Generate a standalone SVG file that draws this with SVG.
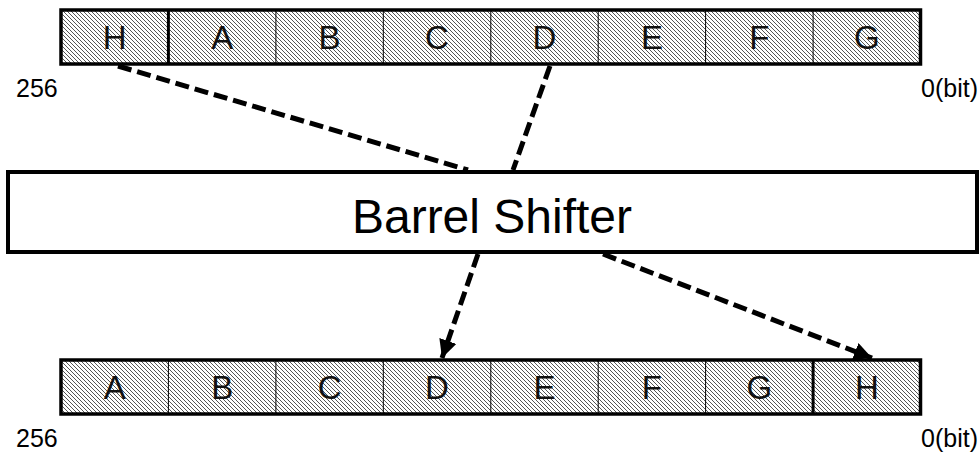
<svg xmlns="http://www.w3.org/2000/svg" width="979" height="453" viewBox="0 0 979 453">
  <defs>
    <pattern id="hatch" patternUnits="userSpaceOnUse" width="4" height="4">
      <rect width="4" height="4" fill="#ffffff"/>
      <path d="M-1,-1 L5,5 M-1,3 L1,5 M3,-1 L5,1" stroke="#555" stroke-width="1"/>
    </pattern>
    <marker id="head" markerUnits="userSpaceOnUse" markerWidth="20" markerHeight="18" refX="18" refY="9" orient="auto">
      <path d="M0,0 L18,9 L0,18 Z" fill="#000"/>
    </marker>
  </defs>
  <style>
    .bar { fill: url(#hatch); stroke: #000; stroke-width: 3.5; }
    .div { stroke: #000; stroke-width: 1; }
    .divk { stroke: #000; stroke-width: 3; }
    .cell { font-family: "Liberation Sans", Arial, sans-serif; font-size: 33px; fill: #111; text-anchor: middle; }
    .idx { font-family: "Liberation Sans", Arial, sans-serif; font-size: 25px; fill: #000; }
    .conn { fill: none; stroke: #000; stroke-width: 5; stroke-dasharray: 14 6; }
    .box { fill: #fff; stroke: #000; stroke-width: 4; }
    .title { font-family: "Liberation Sans", Arial, sans-serif; font-size: 48px; fill: #000; text-anchor: middle; }
  </style>

  <!-- input register -->
  <g id="input-register">
    <rect class="bar" x="61" y="10" width="859.5" height="54"/>
    <line class="divk" x1="168.4" y1="10" x2="168.4" y2="64"/>
    <line class="div" x1="275.9" y1="10" x2="275.9" y2="64"/>
    <line class="div" x1="383.3" y1="10" x2="383.3" y2="64"/>
    <line class="div" x1="490.8" y1="10" x2="490.8" y2="64"/>
    <line class="div" x1="598.2" y1="10" x2="598.2" y2="64"/>
    <line class="div" x1="705.6" y1="10" x2="705.6" y2="64"/>
    <line class="div" x1="813.1" y1="10" x2="813.1" y2="64"/>
    <text class="cell" x="114.7" y="49">H</text>
    <text class="cell" x="222.2" y="49">A</text>
    <text class="cell" x="329.6" y="49">B</text>
    <text class="cell" x="437.0" y="49">C</text>
    <text class="cell" x="544.5" y="49">D</text>
    <text class="cell" x="651.9" y="49">E</text>
    <text class="cell" x="759.3" y="49">F</text>
    <text class="cell" x="866.8" y="49">G</text>
    <text class="idx" x="16" y="97">256</text>
    <text class="idx" x="978" y="97" text-anchor="end">0(bit)</text>
  </g>

  <!-- output register -->
  <g id="output-register">
    <rect class="bar" x="61" y="360" width="859.5" height="54"/>
    <line class="div" x1="168.4" y1="360" x2="168.4" y2="414"/>
    <line class="div" x1="275.9" y1="360" x2="275.9" y2="414"/>
    <line class="div" x1="383.3" y1="360" x2="383.3" y2="414"/>
    <line class="div" x1="490.8" y1="360" x2="490.8" y2="414"/>
    <line class="div" x1="598.2" y1="360" x2="598.2" y2="414"/>
    <line class="div" x1="705.6" y1="360" x2="705.6" y2="414"/>
    <line class="divk" x1="813.1" y1="360" x2="813.1" y2="414"/>
    <text class="cell" x="114.7" y="399">A</text>
    <text class="cell" x="222.2" y="399">B</text>
    <text class="cell" x="329.6" y="399">C</text>
    <text class="cell" x="437.0" y="399">D</text>
    <text class="cell" x="544.5" y="399">E</text>
    <text class="cell" x="651.9" y="399">F</text>
    <text class="cell" x="759.3" y="399">G</text>
    <text class="cell" x="866.8" y="399">H</text>
    <text class="idx" x="16" y="447">256</text>
    <text class="idx" x="978" y="447" text-anchor="end">0(bit)</text>
  </g>

  <!-- dashed data paths -->
  <g id="connectors">
    <line class="conn" x1="118" y1="66" x2="468" y2="170"/>
    <line class="conn" x1="550" y1="66" x2="513" y2="170"/>
    <line class="conn" x1="478" y1="254" x2="442" y2="358" marker-end="url(#head)"/>
    <line class="conn" x1="603" y1="254" x2="872" y2="358" marker-end="url(#head)"/>
  </g>

  <!-- shifter block -->
  <g id="barrel-shifter">
    <rect class="box" x="8" y="172" width="969" height="80"/>
    <text class="title" x="492" y="233">Barrel Shifter</text>
  </g>
</svg>
